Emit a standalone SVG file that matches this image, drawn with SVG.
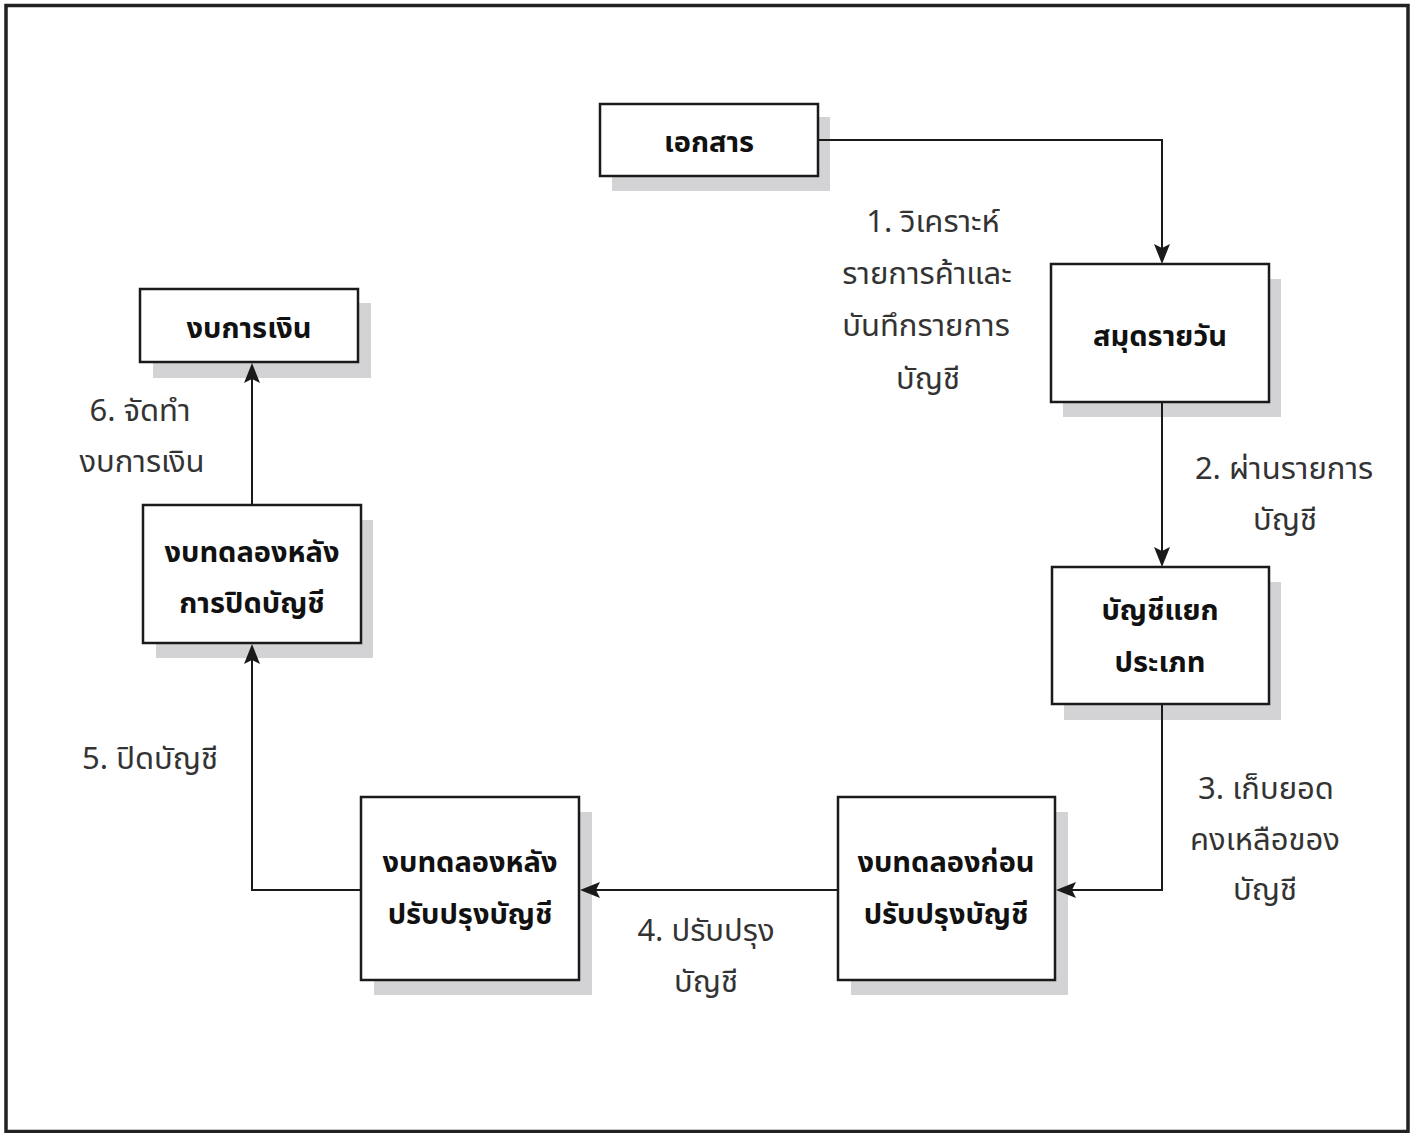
<svg xmlns="http://www.w3.org/2000/svg" width="1414" height="1133" viewBox="0 0 1414 1133">
<style>
.box{fill:#fff;stroke:#1a1a1a;stroke-width:2.5}
.sh{fill:#d3d3d5}
.bt{font-family:"Noto Sans","Noto Sans Thai","DejaVu Sans",sans-serif;font-weight:bold;font-size:29px;fill:#111;text-anchor:middle;dominant-baseline:central}
.lt{font-family:"Noto Sans","Noto Sans Thai","DejaVu Sans",sans-serif;font-size:31px;fill:#333;text-anchor:middle;dominant-baseline:central}
.cn{fill:none;stroke:#1a1a1a;stroke-width:2}
.ah{fill:#1a1a1a;stroke:none}
</style>
<defs>
<path id="arr" d="M0,0 L-20,-8 L-16,0 L-20,8 Z"/>
</defs>
<rect x="0" y="0" width="1414" height="1133" fill="#fff"/>
<rect x="6" y="5.5" width="1402" height="1126" fill="none" stroke="#222" stroke-width="3.5"/>

<g id="n1">
<rect class="sh" x="612" y="117" width="218" height="74"/>
<rect class="box" x="600" y="104" width="218" height="72"/>
<text class="bt" x="709" y="140">เอกสาร</text>
</g>
<g id="n2">
<rect class="sh" x="1063" y="279" width="218" height="138"/>
<rect class="box" x="1051" y="264" width="218" height="138"/>
<text class="bt" x="1160" y="334">สมุดรายวัน</text>
</g>
<g id="n3">
<rect class="sh" x="1064" y="582" width="217" height="138"/>
<rect class="box" x="1052" y="567" width="217" height="137"/>
<text class="bt" x="1160" y="608">บัญชีแยก</text>
<text class="bt" x="1160" y="660">ประเภท</text>
</g>
<g id="n4">
<rect class="sh" x="851" y="812" width="217" height="183"/>
<rect class="box" x="838" y="797" width="217" height="183"/>
<text class="bt" x="946" y="860">งบทดลองก่อน</text>
<text class="bt" x="946" y="912">ปรับปรุงบัญชี</text>
</g>
<g id="n5">
<rect class="sh" x="374" y="812" width="218" height="183"/>
<rect class="box" x="361" y="797" width="218" height="183"/>
<text class="bt" x="470" y="860">งบทดลองหลัง</text>
<text class="bt" x="470" y="912">ปรับปรุงบัญชี</text>
</g>
<g id="n6">
<rect class="sh" x="156" y="520" width="217" height="138"/>
<rect class="box" x="143" y="505" width="218" height="138"/>
<text class="bt" x="252" y="550">งบทดลองหลัง</text>
<text class="bt" x="252" y="601">การปิดบัญชี</text>
</g>
<g id="n7">
<rect class="sh" x="153" y="303" width="218" height="75"/>
<rect class="box" x="140" y="289" width="218" height="73"/>
<text class="bt" x="249" y="326">งบการเงิน</text>
</g>

<g id="connectors">
<path class="cn" d="M819,140 H1162 V250"/>
<use href="#arr" class="ah" transform="translate(1162,264) rotate(90)"/>
<path class="cn" d="M1162,403 V553"/>
<use href="#arr" class="ah" transform="translate(1162,567) rotate(90)"/>
<path class="cn" d="M1162,705 V890 H1070"/>
<use href="#arr" class="ah" transform="translate(1056,890) rotate(180)"/>
<path class="cn" d="M837,890 H594"/>
<use href="#arr" class="ah" transform="translate(580,890) rotate(180)"/>
<path class="cn" d="M360,890 H252 V658"/>
<use href="#arr" class="ah" transform="translate(252,644) rotate(-90)"/>
<path class="cn" d="M252,504 V377"/>
<use href="#arr" class="ah" transform="translate(252,363) rotate(-90)"/>
</g>

<g id="labels">
<text class="lt" x="933" y="220">1. วิเคราะห์</text>
<text class="lt" x="927" y="272">รายการค้าและ</text>
<text class="lt" x="926" y="324">บันทึกรายการ</text>
<text class="lt" x="928" y="377">บัญชี</text>
<text class="lt" x="1284" y="467">2. ผ่านรายการ</text>
<text class="lt" x="1285" y="518">บัญชี</text>
<text class="lt" x="1266" y="787">3. เก็บยอด</text>
<text class="lt" x="1265" y="838">คงเหลือของ</text>
<text class="lt" x="1265" y="888">บัญชี</text>
<text class="lt" x="706" y="929">4. ปรับปรุง</text>
<text class="lt" x="706" y="980">บัญชี</text>
<text class="lt" x="150" y="757">5. ปิดบัญชี</text>
<text class="lt" x="140" y="409">6. จัดทำ</text>
<text class="lt" x="142" y="460">งบการเงิน</text>
</g>
</svg>
